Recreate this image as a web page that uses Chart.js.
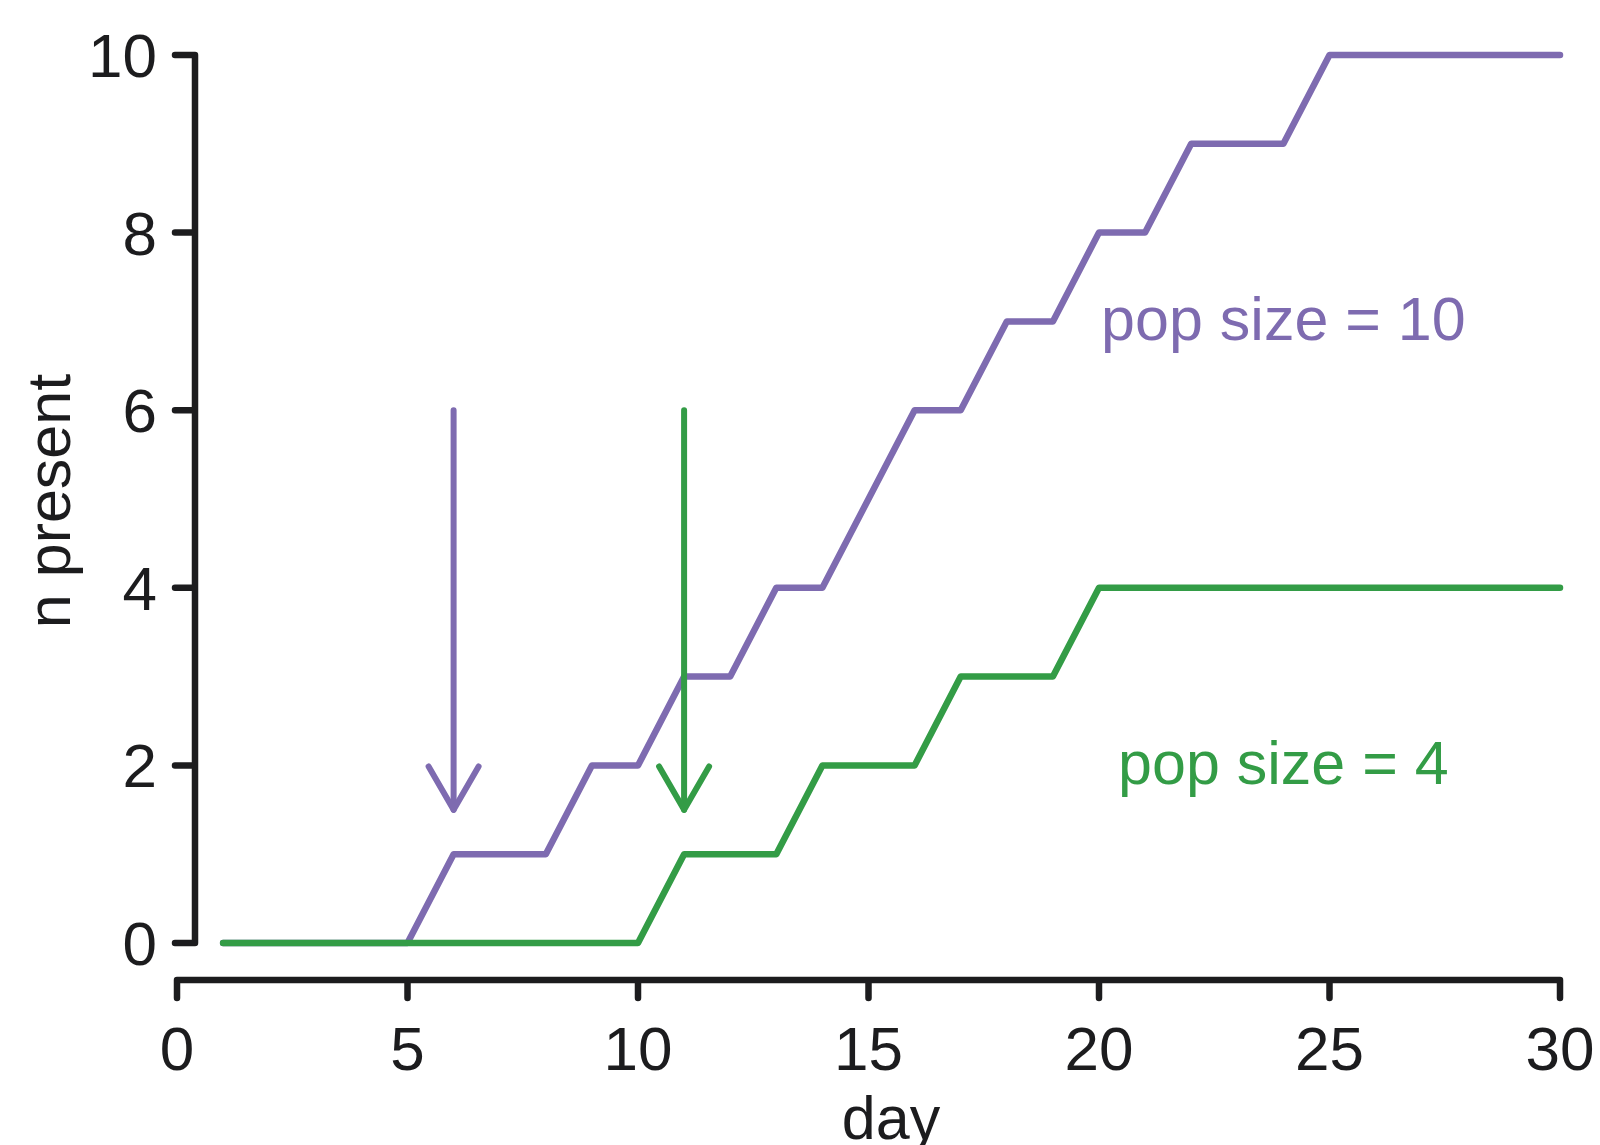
<!DOCTYPE html>
<html>
<head>
<meta charset="utf-8">
<title>n present by day</title>
<script src="https://cdn.jsdelivr.net/npm/chart.js@4.4.1/dist/chart.umd.min.js"></script>
<style>
  html, body { margin: 0; padding: 0; background: #fff; }
  canvas { display: block; }
</style>
</head>
<body>
<canvas id="chart" width="1600" height="1145"></canvas>
<script>
// data
const days = [1, 2, 3, 4, 5, 6, 7, 8, 9, 10, 11, 12, 13, 14, 15, 16, 17, 18, 19, 20, 21, 22, 23, 24, 25, 26, 27, 28, 29, 30];
const popTen = [0, 0, 0, 0, 0, 1, 1, 1, 2, 2, 3, 3, 4, 4, 5, 6, 6, 7, 7, 8, 8, 9, 9, 9, 10, 10, 10, 10, 10, 10];
const popFour = [0, 0, 0, 0, 0, 0, 0, 0, 0, 0, 1, 1, 1, 2, 2, 2, 3, 3, 3, 4, 4, 4, 4, 4, 4, 4, 4, 4, 4, 4];
const xTicks = [0, 5, 10, 15, 20, 25, 30];
const yTicks = [0, 2, 4, 6, 8, 10];
// arrows: [day, from, to] for each population
const arrowTen = [6, 6, 1.5];
const arrowFour = [11, 6, 1.5];
const labelTen = ['pop size = 10', 24, 7];
const labelFour = ['pop size = 4', 24, 2];

const PURPLE = '#7e6bb0';
const GREEN = '#339c46';
const INK = '#1c1c1e';
const FONT = '"Liberation Sans", Arial, Helvetica, sans-serif';

const toPoints = (xs, ys) => xs.map((x, i) => ({ x: x, y: ys[i] }));
const arrowPoints = a => [{ x: a[0], y: a[1] }, { x: a[0], y: a[2] }];

// R-style detached axes, arrow heads and text labels
const decorations = {
    id: 'decorations',
    afterDatasetsDraw(chart) {
        const { ctx, scales: { x, y } } = chart;
        ctx.save();
        ctx.lineCap = 'round';
        ctx.lineJoin = 'round';

        // arrow heads
        [[arrowTen, PURPLE], [arrowFour, GREEN]].forEach(([a, col]) => {
            const px = x.getPixelForValue(a[0]);
            const py = y.getPixelForValue(a[2]);
            const len = 50, ang = Math.PI / 6;
            ctx.strokeStyle = col;
            ctx.lineWidth = 6;
            ctx.beginPath();
            ctx.moveTo(px - len * Math.sin(ang), py - len * Math.cos(ang));
            ctx.lineTo(px, py);
            ctx.lineTo(px + len * Math.sin(ang), py - len * Math.cos(ang));
            ctx.stroke();
        });

        // y axis
        ctx.strokeStyle = INK;
        ctx.lineWidth = 6.5;
        const axX = x.left + 18;
        const tickL = 20;
        const y0 = y.getPixelForValue(yTicks[0]);
        const y1 = y.getPixelForValue(yTicks[yTicks.length - 1]);
        ctx.beginPath();
        ctx.moveTo(axX - tickL, y0);
        ctx.lineTo(axX, y0);
        ctx.lineTo(axX, y1);
        ctx.lineTo(axX - tickL, y1);
        yTicks.slice(1, -1).forEach(v => {
            const py = y.getPixelForValue(v);
            ctx.moveTo(axX, py);
            ctx.lineTo(axX - tickL, py);
        });
        ctx.stroke();

        // x axis
        const axY = y.bottom + 37;
        const x0 = x.getPixelForValue(xTicks[0]);
        const x1 = x.getPixelForValue(xTicks[xTicks.length - 1]);
        ctx.beginPath();
        ctx.moveTo(x0, axY + 18);
        ctx.lineTo(x0, axY);
        ctx.lineTo(x1, axY);
        ctx.lineTo(x1, axY + 18);
        xTicks.slice(1, -1).forEach(v => {
            const px = x.getPixelForValue(v);
            ctx.moveTo(px, axY);
            ctx.lineTo(px, axY + 18);
        });
        ctx.stroke();

        // tick labels
        ctx.fillStyle = INK;
        ctx.font = '62px ' + FONT;
        ctx.textAlign = 'right';
        ctx.textBaseline = 'alphabetic';
        yTicks.forEach(v => ctx.fillText(String(v), axX - 38, y.getPixelForValue(v) + 22));
        ctx.textAlign = 'center';
        xTicks.forEach(v => ctx.fillText(String(v), x.getPixelForValue(v), axY + 90));

        // axis titles
        ctx.font = '61px ' + FONT;
        ctx.fillText('day', 891, 1139);
        ctx.save();
        ctx.translate(70, (y0 + y1) / 2 + 2);
        ctx.rotate(-Math.PI / 2);
        ctx.fillText('n present', 0, 0);
        ctx.restore();

        // series labels
        [[labelTen, PURPLE], [labelFour, GREEN]].forEach(([l, col]) => {
            ctx.fillStyle = col;
            ctx.fillText(l[0], x.getPixelForValue(l[1]), y.getPixelForValue(l[2]) + 19);
        });
        ctx.restore();
    }
};

const lineStyle = {
    pointRadius: 0,
    tension: 0,
    borderCapStyle: 'round',
    borderJoinStyle: 'round',
    fill: false,
    clip: false
};

new Chart(document.getElementById('chart'), {
    type: 'line',
    data: {
        datasets: [
            { ...lineStyle, label: 'arrow 4', data: arrowPoints(arrowFour), borderColor: GREEN, borderWidth: 6, order: 0 },
            { ...lineStyle, label: 'arrow 10', data: arrowPoints(arrowTen), borderColor: PURPLE, borderWidth: 6, order: 1 },
            { ...lineStyle, label: 'pop size = 4', data: toPoints(days, popFour), borderColor: GREEN, borderWidth: 6.5, order: 2 },
            { ...lineStyle, label: 'pop size = 10', data: toPoints(days, popTen), borderColor: PURPLE, borderWidth: 6.5, order: 3 }
        ]
    },
    options: {
        responsive: false,
        animation: false,
        events: [],
        layout: { padding: { left: 177, right: 40, top: 55, bottom: 202 } },
        plugins: { legend: { display: false }, tooltip: { enabled: false } },
        scales: {
            x: { type: 'linear', min: 0, max: 30, display: false },
            y: { type: 'linear', min: 0, max: 10, display: false }
        }
    },
    plugins: [decorations]
});
</script>
</body>
</html>
